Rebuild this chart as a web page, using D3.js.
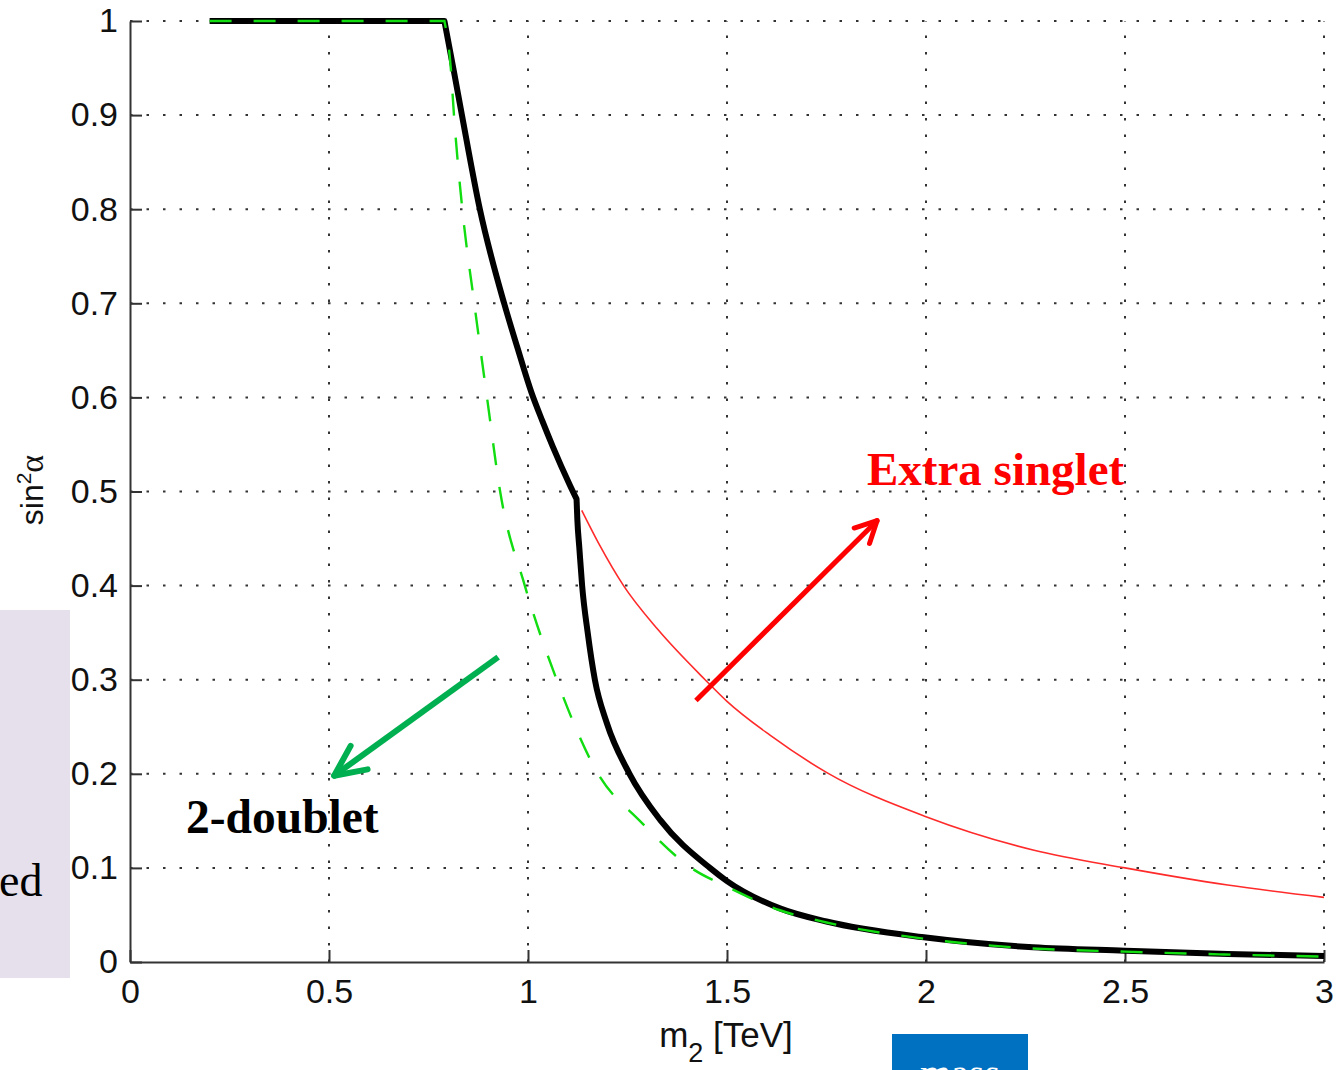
<!DOCTYPE html>
<html>
<head>
<meta charset="utf-8">
<script src="https://cdn.jsdelivr.net/npm/d3@7"></script>
<style>
  body { margin: 0; background: #fff; }
  svg { display: block; }
  .tick text { font-family: "Liberation Sans", Arial, sans-serif; font-size: 34px; fill: #111; }
</style>
</head>
<body>
<div id="chart"></div>
<script>
// values: [m2 in TeV, sin^2 alpha]
const combinedCurve = [
  [0.2, 1], [0.79, 1], [0.814, 0.946], [0.834, 0.9], [0.879, 0.8], [0.94, 0.7],
  [0.974, 0.652], [1.008, 0.606], [1.036, 0.575], [1.062, 0.548], [1.105, 0.507],
  [1.122, 0.492],
  [1.124, 0.47], [1.129, 0.44], [1.136, 0.4], [1.15, 0.35], [1.168, 0.3],
  [1.198, 0.254], [1.255, 0.2], [1.332, 0.151], [1.457, 0.1], [1.5, 0.086],
  [1.633, 0.057], [1.75, 0.043], [2.0, 0.026], [2.269, 0.0156], [2.5, 0.012],
  [2.758, 0.0085], [3.0, 0.0064]
];
const doubletCurve = [
  [0.2, 1], [0.79, 1], [0.806, 0.95], [0.814, 0.9], [0.835, 0.8], [0.865, 0.7],
  [0.897, 0.6], [0.93, 0.5], [0.992, 0.4], [1.072, 0.3], [1.176, 0.2],
  [1.281, 0.15], [1.41, 0.1], [1.5, 0.08], [1.633, 0.055], [1.75, 0.042],
  [2.0, 0.0245], [2.25, 0.0148], [2.5, 0.011], [2.75, 0.008], [3.0, 0.0058]
];
const singletCurve = [
  [1.135, 0.48], [1.18, 0.443], [1.24, 0.4], [1.327, 0.353], [1.445, 0.3],
  [1.5, 0.277], [1.608, 0.241], [1.752, 0.201], [2.0, 0.1544], [2.269, 0.119],
  [2.5, 0.1], [2.758, 0.0818], [3.0, 0.0687]
];
// x positions where a curve has a sharp corner
const combinedKinks = [0.79, 1.122];
const doubletKinks = [0.79];

const xTicks = [0, 0.5, 1, 1.5, 2, 2.5, 3];
const yTicks = [0, 0.1, 0.2, 0.3, 0.4, 0.5, 0.6, 0.7, 0.8, 0.9, 1];

// annotation arrows in data units: [tail, tip]
const singletArrow = [[1.422, 0.278], [1.877, 0.469]];
const doubletArrow = [[0.925, 0.324], [0.513, 0.198]];

const w = 1344;
const h = 1070;
const plotLeft = 130, plotRight = 1324, plotTop = 21, plotBottom = 962;

const svg = d3.select("#chart")
              .append("svg")
              .attr("width", w)
              .attr("height", h);

// slide pieces peeking in around the figure
svg.append("rect").attr("x", 0).attr("y", 610).attr("width", 70).attr("height", 368)
   .attr("fill", "#e5e0ec");
svg.append("text").attr("x", -1).attr("y", 896)
   .style("font-family", "'Liberation Serif', 'Times New Roman', serif")
   .style("font-size", "46px").text("ed");
svg.append("rect").attr("x", 892).attr("y", 1034).attr("width", 136).attr("height", 40)
   .attr("fill", "#0070c0");
svg.append("text").attr("x", 960).attr("y", 1087).attr("text-anchor", "middle")
   .attr("fill", "#fff")
   .style("font-family", "'Liberation Serif', 'Times New Roman', serif")
   .style("font-size", "40px").text("mass");

const xScale = d3.scaleLinear().domain([0, 3]).range([plotLeft, plotRight]);
const yScale = d3.scaleLinear().domain([0, 1]).range([plotBottom, plotTop]);

// dotted grid
svg.append("g").selectAll("line")
   .data(xTicks.filter(d => d > 0))
   .enter().append("line")
   .attr("x1", d => xScale(d)).attr("x2", d => xScale(d))
   .attr("y1", plotBottom).attr("y2", plotTop)
   .attr("stroke", "#333").attr("stroke-width", 2)
   .attr("stroke-dasharray", "2.5,14");
svg.append("g").selectAll("line")
   .data(yTicks.filter(d => d > 0))
   .enter().append("line")
   .attr("y1", d => yScale(d)).attr("y2", d => yScale(d))
   .attr("x1", plotLeft).attr("x2", plotRight)
   .attr("stroke", "#333").attr("stroke-width", 2)
   .attr("stroke-dasharray", "2.5,14");

const xAxis = d3.axisBottom(xScale).tickValues(xTicks).tickFormat(d => `${d}`)
                .tickSize(-12).tickSizeOuter(0).tickPadding(17);
const yAxis = d3.axisLeft(yScale).tickValues(yTicks).tickFormat(d => `${d}`)
                .tickSize(-12).tickSizeOuter(0).tickPadding(12);

svg.append("g")
   .attr("class", "x-axis")
   .attr("transform", `translate(0, ${plotBottom})`)
   .call(xAxis);
svg.append("g")
   .attr("class", "y-axis")
   .attr("transform", `translate(${plotLeft}, 0)`)
   .call(yAxis);
svg.selectAll(".x-axis path, .y-axis path, .tick line")
   .attr("stroke", "#333").attr("stroke-width", 2);

// curves: smooth between kinks, sharp at kinks
const smooth = d3.line().x(d => xScale(d[0])).y(d => yScale(d[1])).curve(d3.curveMonotoneX);

function curvePath(points, kinks) {
  const edges = [-Infinity, ...kinks, Infinity];
  let d = "";
  for (let i = 0; i < edges.length - 1; i++) {
    const part = points.filter(p => p[0] >= edges[i] && p[0] <= edges[i + 1]);
    if (part.length < 2) continue;
    let seg = smooth(part);
    if (d !== "") seg = "L" + seg.slice(1);
    d += seg;
  }
  return d;
}

svg.append("path")
   .attr("d", curvePath(singletCurve, []))
   .attr("fill", "none")
   .attr("stroke", "#ff2a2a").attr("stroke-width", 1.6);
svg.append("path")
   .attr("d", curvePath(combinedCurve, combinedKinks))
   .attr("fill", "none")
   .attr("stroke", "#000").attr("stroke-width", 6)
   .attr("stroke-linejoin", "round");
svg.append("path")
   .attr("d", curvePath(doubletCurve, doubletKinks))
   .attr("fill", "none")
   .attr("stroke", "#11dd11").attr("stroke-width", 2.4)
   .attr("stroke-dasharray", "22,22");

// arrows
function drawArrow(pts, color, width, barb, spread) {
  const [x0, y0] = [xScale(pts[0][0]), yScale(pts[0][1])];
  const [x1, y1] = [xScale(pts[1][0]), yScale(pts[1][1])];
  const ang = Math.atan2(y0 - y1, x0 - x1);
  const g = svg.append("g").attr("stroke", color).attr("stroke-width", width)
               .attr("stroke-linecap", "round").attr("fill", "none");
  g.append("line").attr("x1", x0).attr("y1", y0).attr("x2", x1).attr("y2", y1)
   .attr("stroke-linecap", "butt");
  [-spread, spread].forEach(s => {
    g.append("line").attr("x1", x1).attr("y1", y1)
     .attr("x2", x1 + barb * Math.cos(ang + s))
     .attr("y2", y1 + barb * Math.sin(ang + s));
  });
}
drawArrow(singletArrow, "#ff0000", 5, 24, 0.47);
drawArrow(doubletArrow, "#00b050", 6, 34, 0.44);

// labels
svg.append("text")
   .attr("x", 867).attr("y", 485)
   .attr("fill", "#ff0000")
   .style("font-family", "'Liberation Serif', 'Times New Roman', serif")
   .style("font-weight", "bold").style("font-size", "47px")
   .text("Extra singlet");
svg.append("text")
   .attr("x", 186).attr("y", 833)
   .attr("fill", "#000")
   .style("font-family", "'Liberation Serif', 'Times New Roman', serif")
   .style("font-weight", "bold").style("font-size", "47.5px")
   .text("2-doublet");

const xLabel = svg.append("text")
   .attr("x", 726).attr("y", 1047).attr("text-anchor", "middle")
   .style("font-family", "'Liberation Sans', Arial, sans-serif")
   .style("font-size", "35px").attr("fill", "#111");
xLabel.append("tspan").text("m");
xLabel.append("tspan").attr("dy", 15).style("font-size", "27px").text("2");
xLabel.append("tspan").attr("dy", -15).text(" [TeV]");

const yLabel = svg.append("text")
   .attr("transform", "translate(43, 490) rotate(-90)")
   .attr("text-anchor", "middle")
   .style("font-family", "'Liberation Sans', Arial, sans-serif")
   .style("font-size", "32px").attr("fill", "#111");
yLabel.append("tspan").text("sin");
yLabel.append("tspan").attr("dy", -12).style("font-size", "21px").text("2");
yLabel.append("tspan").attr("dy", 12).style("font-family", "'Liberation Serif', serif")
      .style("font-size", "34px").text("α");
</script>
</body>
</html>
